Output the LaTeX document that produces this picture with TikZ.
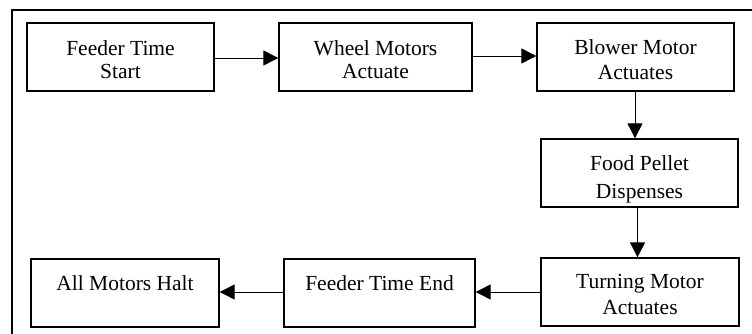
\documentclass[tikz,border=0pt]{standalone}
\usepackage{fontspec}
\setmainfont{Liberation Serif}
\usetikzlibrary{arrows.meta}
\tikzset{
  box/.style={draw=black, line width=1.3pt, fill=white, rectangle, inner sep=0pt},
  txt/.style={anchor=base, inner sep=0pt, font=\fontsize{21.5}{24}\selectfont},
  arr/.style={line width=0.9pt, -{Triangle[length=15pt,width=15pt]}},
  frame/.style={line width=1.8pt}
}
\begin{document}
\begin{tikzpicture}[x=1pt,y=-1pt]
\useasboundingbox (0,0) rectangle (752,334);
\coordinate (fa) at (752,10);
\coordinate (fb) at (12,10);
\coordinate (fc) at (12,334);
\draw[frame] (fa) -- (fb) -- (fc);
% boxes
\node[box, minimum width=187pt, minimum height=68pt] (b1) at (120.5,57) {};
\node[box, minimum width=193pt, minimum height=68pt] (b2) at (375.5,57) {};
\node[box, minimum width=197pt, minimum height=68pt] (b3) at (635.5,57) {};
\node[box, minimum width=197pt, minimum height=68pt] (b4) at (639.5,173) {};
\node[box, minimum width=198pt, minimum height=68pt] (b5) at (640,292) {};
\node[box, minimum width=191pt, minimum height=68pt] (b6) at (379.5,293) {};
\node[box, minimum width=188pt, minimum height=68pt] (b7) at (125,293) {};
% texts
\node[txt] (t1a) at (120.5,55.5) {Feeder Time};
\node[txt] (t1b) at (120.5,79) {Start};
\node[txt] (t2a) at (375.5,55.5) {Wheel Motors};
\node[txt] (t2b) at (375.5,79) {Actuate};
\node[txt] (t3a) at (635.5,55) {Blower Motor};
\node[txt] (t3b) at (635.5,80) {Actuates};
\node[txt] (t4a) at (639.5,170) {Food Pellet};
\node[txt] (t4b) at (639.5,198) {Dispenses};
\node[txt] (t5a) at (640,288) {Turning Motor};
\node[txt] (t5b) at (640,314) {Actuates};
\node[txt] (t6a) at (379.5,290.5) {Feeder Time End};
\node[txt] (t7a) at (125,290.5) {All Motors Halt};
% arrows
\draw[arr] (b1.east |- 0,58) -- (b2.west |- 0,58);
\draw[arr] (b2.east |- 0,56) -- (b3.west |- 0,56);
\draw[arr] (b3.south -| 635,0) -- (b4.north -| 635,0);
\draw[arr] (b4.south -| 637.5,0) -- (b5.north -| 637.5,0);
\draw[arr] (b5.west |- 0,292) -- (b6.east |- 0,292);
\draw[arr] (b6.west |- 0,292) -- (b7.east |- 0,292);
\end{tikzpicture}
\end{document}
